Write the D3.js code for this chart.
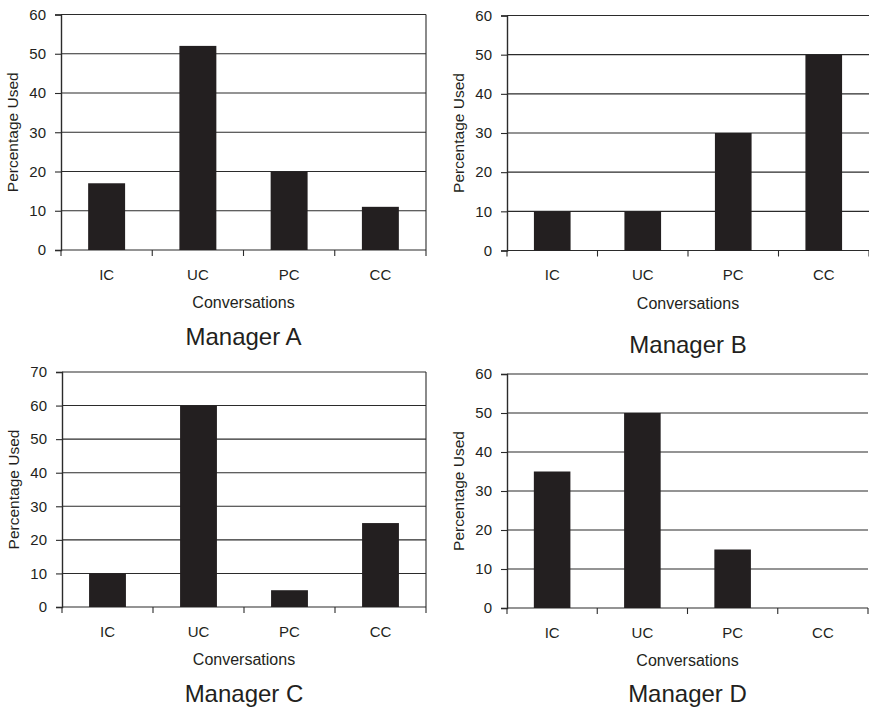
<!DOCTYPE html>
<html>
<head>
<meta charset="utf-8">
<script src="https://cdn.jsdelivr.net/npm/d3@7"></script>
<style>
  body { margin: 0; background: #fff; }
  svg { display: block; }
  text { font-family: "Liberation Sans", Arial, Helvetica, sans-serif; fill: #231f20; }
</style>
</head>
<body>
<script>
// categories shared by every panel
var categories = ["IC", "UC", "PC", "CC"];

// percentage used
var managerA = [17, 52, 20, 11];
var managerB = [10, 10, 30, 50];
var managerC = [10, 60, 5, 25];
var managerD = [35, 50, 15, 0];

var yMaxA = 60, yMaxB = 60, yMaxC = 70, yMaxD = 60;
var yStep = 10;

var xTitle = "Conversations";
var yTitle = "Percentage Used";

var W = 869, H = 709;
var INK = "#231f20";
var LINE = "#2b2b2b";

var svg = d3.select("body").append("svg")
    .attr("width", W)
    .attr("height", H);

// one panel: plot box + data + title
function drawPanel(box, values, yMax, title, titleGap, rightBorder) {
  var g = svg.append("g");

  var x = d3.scaleBand()
      .domain(categories)
      .range([box.left, box.right])
      .paddingInner(0.595)
      .paddingOuter(0.2975);

  var y = d3.scaleLinear()
      .domain([0, yMax])
      .range([box.bottom, box.top]);

  var ticks = d3.range(0, yMax + 1, yStep);

  // gridlines (include top border and baseline)
  g.selectAll("line.grid")
    .data(ticks)
    .enter().append("line")
      .attr("class", "grid")
      .attr("x1", box.left)
      .attr("x2", box.right)
      .attr("y1", function(d) { return y(d); })
      .attr("y2", function(d) { return y(d); })
      .attr("stroke", LINE)
      .attr("stroke-width", 1.1);

  if (rightBorder) {
    g.append("line")
      .attr("x1", box.right).attr("x2", box.right)
      .attr("y1", y(yMax)).attr("y2", y(0))
      .attr("stroke", LINE)
      .attr("stroke-width", 1.1);
  }

  // bars
  g.selectAll("rect.bar")
    .data(values)
    .enter().append("rect")
      .attr("class", "bar")
      .attr("x", function(d, i) { return x(categories[i]); })
      .attr("width", x.bandwidth())
      .attr("y", function(d) { return y(d); })
      .attr("height", function(d) { return y(0) - y(d); })
      .attr("fill", INK);

  // y axis
  var yAxis = d3.axisLeft(y)
      .tickValues(ticks)
      .tickSize(6)
      .tickPadding(9)
      .tickFormat(d3.format("d"));

  var ya = g.append("g")
      .attr("transform", "translate(" + box.left + ",0)")
      .call(yAxis);
  ya.select(".domain").attr("stroke", LINE).attr("stroke-width", 1.4);
  ya.selectAll(".tick line").attr("stroke", LINE).attr("stroke-width", 1.1);
  ya.selectAll(".tick text")
      .style("font-size", "15px")
      .style("font-family", "Liberation Sans, Arial, sans-serif")
      .attr("fill", INK);

  // x axis: labels centered, ticks at category boundaries
  var xa = g.append("g")
      .attr("transform", "translate(0," + box.bottom + ")")
      .call(d3.axisBottom(x).tickSize(0).tickPadding(19));
  xa.select(".domain").remove();
  xa.selectAll(".tick text")
      .style("font-size", "15px")
      .style("font-family", "Liberation Sans, Arial, sans-serif")
      .attr("fill", INK);

  var bounds = categories.map(function(c) { return x(c) - x.step() * x.paddingInner() / 2; });
  bounds.push(box.right);
  g.selectAll("line.xt")
    .data(bounds)
    .enter().append("line")
      .attr("class", "xt")
      .attr("x1", function(d) { return d; })
      .attr("x2", function(d) { return d; })
      .attr("y1", box.bottom)
      .attr("y2", box.bottom + 6)
      .attr("stroke", LINE)
      .attr("stroke-width", 1.1);

  var cx = (box.left + box.right) / 2;

  g.append("text")
    .attr("x", cx)
    .attr("y", box.bottom + 58)
    .attr("text-anchor", "middle")
    .style("font-size", "16px")
    .text(xTitle);

  g.append("text")
    .attr("transform", "translate(" + (box.left - 43) + "," + ((box.top + box.bottom) / 2) + ") rotate(-90)")
    .attr("text-anchor", "middle")
    .style("font-size", "15.5px")
    .text(yTitle);

  g.append("text")
    .attr("x", cx)
    .attr("y", box.bottom + titleGap)
    .attr("text-anchor", "middle")
    .style("font-size", "24px")
    .text(title);
}

drawPanel({left: 61, right: 426, top: 14.5, bottom: 250}, managerA, yMaxA, "Manager A", 95, true);
drawPanel({left: 507, right: 869, top: 15.5, bottom: 250.5}, managerB, yMaxB, "Manager B", 102, false);
drawPanel({left: 62, right: 426, top: 372, bottom: 607}, managerC, yMaxC, "Manager C", 95, true);
drawPanel({left: 507, right: 868, top: 374, bottom: 608}, managerD, yMaxD, "Manager D", 94, false);
</script>
</body>
</html>
